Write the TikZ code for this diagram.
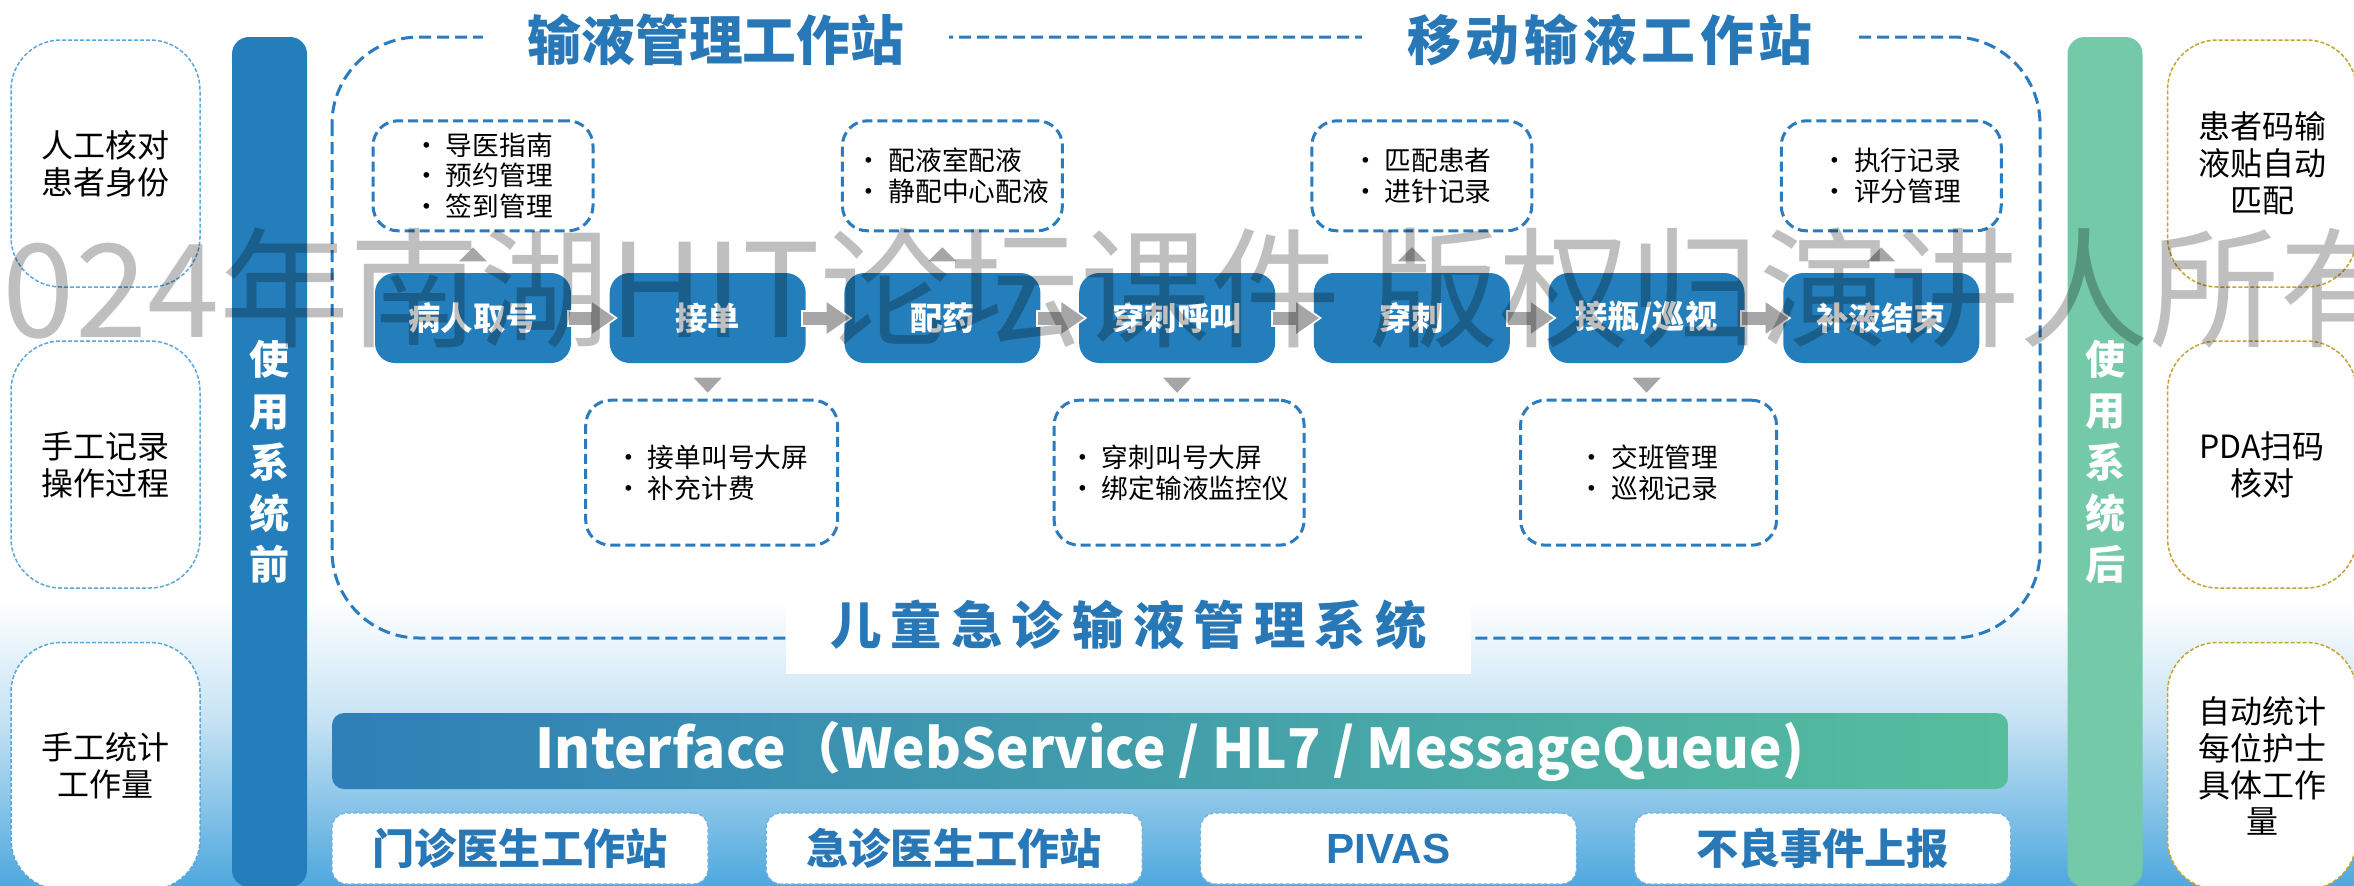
\documentclass[tikz,border=0pt]{standalone}
\usepackage{fontspec}
\setmainfont{Noto Sans CJK SC}
\newfontfamily\pivasfont{Liberation Sans}
\usetikzlibrary{positioning,calc,arrows.meta}

\definecolor{procblue}{HTML}{237EBB}
\definecolor{titleblue}{HTML}{2878B8}
\definecolor{dashblue}{HTML}{2B7CBF}
\definecolor{afgreen}{HTML}{74C9A9}
\definecolor{markgray}{HTML}{A6A6A6}
\definecolor{leftdot}{HTML}{5AA8DC}
\definecolor{golddot}{HTML}{C8A232}
\definecolor{bgmid}{HTML}{C6E2F3}
\definecolor{bgbot}{HTML}{4EA8DE}
\definecolor{ifaceleft}{HTML}{2F7FB8}
\definecolor{ifaceright}{HTML}{56BE9D}
\definecolor{sysdash}{HTML}{6FB2E0}

\tikzset{
  sidebox/.style={draw, line width=0.15mm, dash pattern=on 0.4mm off 0.2mm, rounded corners=5mm, fill=white,
    minimum width=18.9mm, minimum height=24.7mm, inner sep=0pt, align=center,
    font=\fontsize{9.1pt}{10.5pt}\selectfont},
  barnode/.style={rounded corners=1.7mm, minimum width=7.5mm, minimum height=85mm, inner sep=0pt,
    text=white, align=center, font=\fontsize{11.4pt}{14.6pt}\selectfont\bfseries},
  regionline/.style={dashblue, line width=0.3mm, dash pattern=on 1.2mm off 0.6mm, rounded corners=8.7mm},
  titlenode/.style={fill=white, inner xsep=4.5mm, inner ysep=1mm, text=titleblue,
    font=\fontsize{15.3pt}{15.3pt}\selectfont\bfseries},
  procbox/.style={fill=procblue, rounded corners=2mm, minimum width=19.6mm, minimum height=9mm,
    inner sep=0pt, text=white, font=\fontsize{9.2pt}{9.2pt}\selectfont\bfseries},
  notebox/.style={draw=dashblue, line width=0.3mm, dash pattern=on 1mm off 0.5mm, rounded corners=2.5mm,
    fill=white, minimum width=22mm, minimum height=11mm, inner sep=0pt, align=left,
    font=\fontsize{7.6pt}{8.8pt}\selectfont},
  sysbox/.style={draw=sysdash, line width=0.12mm, dash pattern=on 0.4mm off 0.2mm, rounded corners=1.5mm,
    fill=white, minimum width=37.6mm, minimum height=7.1mm, inner sep=0pt, text=titleblue,
    font=\fontsize{12pt}{12pt}\selectfont\bfseries},
  flowarrow/.style={markgray, line width=1.3mm, -{Triangle[length=2.3mm,width=3mm]}},
  flowedge/.style={white, line width=1.7mm, -{Triangle[length=2.7mm,width=3.6mm]}}
}

\begin{document}
\begin{tikzpicture}[x=0.1mm,y=-0.1mm]
\useasboundingbox (0,0) rectangle (2354,885);
% background
\fill[white] (0,0) rectangle (2354,885);
\shade[top color=white,bottom color=bgmid] (0,600) rectangle (2354,721);
\shade[top color=bgmid,bottom color=bgbot] (0,720) rectangle (2354,886);

% before / after
\node[sidebox, draw=leftdot] (b1) at (105.5,163.5) {人工核对\\患者身份};
\node[sidebox, draw=leftdot] (b2) at (105.5,464.5) {手工记录\\操作过程};
\node[sidebox, draw=leftdot] (b3) at (105.5,766) {手工统计\\工作量};
\node[sidebox, draw=golddot] (a1) at (2262,163.5) {患者码输\\液贴自动\\匹配};
\node[sidebox, draw=golddot] (a2) at (2262,464.5) {PDA扫码\\核对};
\node[sidebox, draw=golddot] (a3) at (2262,766) {自动统计\\每位护士\\具体工作\\量};

\node[barnode, fill=procblue] (useL) at (269.5,462) {使\\用\\系\\统\\前};
\node[barnode, fill=afgreen] (useR) at (2105,462) {使\\用\\系\\统\\后};

% system frame
\draw[regionline] (332,37) rectangle (2040,638);
\node[titlenode] (t1) at (716,40) {输液管理工作站};
\node[titlenode, font=\fontsize{15.3pt}{15.3pt}\selectfont\bfseries\addfontfeature{LetterSpace=9}] (t2) at (1610,40) {移动输液工作站};
\node[fill=white, minimum width=68.5mm, minimum height=9.8mm, text=titleblue,
  font=\fontsize{14.6pt}{14.6pt}\selectfont\bfseries\addfontfeature{LetterSpace=18}] (sys) at (1128.5,625) {儿童急诊输液管理系统};

% flow
\node[procbox] (p1) at (473,318) {病人取号};
\node[procbox, right=3.73mm of p1] (p2) {接单};
\node[procbox, right=3.73mm of p2] (p3) {配药};
\node[procbox, right=3.73mm of p3] (p4) {穿刺呼叫};
\node[procbox, right=3.73mm of p4] (p5) {穿刺};
\node[procbox, right=3.73mm of p5] (p6) {接瓶/巡视};
\node[procbox, right=3.73mm of p6] (p7) {补液结束};

\node[notebox, above=4mm of p1, xshift=1mm] (n1) {•\ 导医指南\\•\ 预约管理\\•\ 签到管理};
\node[notebox, above=4mm of p3, xshift=1mm] (n3) {•\ 配液室配液\\•\ 静配中心配液};
\node[notebox, above=4mm of p5, xshift=1mm] (n5) {•\ 匹配患者\\•\ 进针记录};
\node[notebox, above=4mm of p7, xshift=1mm] (n7) {•\ 执行记录\\•\ 评分管理};
\node[notebox, below=3.5mm of p2, xshift=0.4mm, minimum width=25.2mm, minimum height=14.5mm] (n2) {•\ 接单叫号大屏\\•\ 补充计费};
\node[notebox, below=3.5mm of p4, xshift=0.2mm, minimum width=25mm, minimum height=14.5mm] (n4) {•\ 穿刺叫号大屏\\•\ 绑定输液监控仪};
\node[notebox, below=3.5mm of p6, xshift=0.2mm, minimum width=25.6mm, minimum height=14.5mm] (n6) {•\ 交班管理\\•\ 巡视记录};

\foreach \p in {p1,p3,p5,p7}
  \fill[markgray] ($(\p.north)+(-14,-11)$) -- ($(\p.north)+(14,-11)$) -- ($(\p.north)+(0,-25)$) -- cycle;
\foreach \p in {p2,p4,p6}
  \fill[markgray] ($(\p.south)+(-14,14)$) -- ($(\p.south)+(14,14)$) -- ($(\p.south)+(0,29)$) -- cycle;

\foreach \a/\b in {p1/p2,p2/p3,p3/p4,p4/p5,p5/p6,p6/p7}{
  \draw[flowedge] ([xshift=-0.5mm]\a.east) -- ([xshift=0.9mm]\b.west);
  \draw[flowarrow] ([xshift=-0.3mm]\a.east) -- ([xshift=0.6mm]\b.west);
}

% interface
\node[shade, left color=ifaceleft, right color=ifaceright, rounded corners=1.2mm,
  minimum width=167.6mm, minimum height=7.6mm, inner sep=0pt, text=white,
  font=\fontsize{15.6pt}{15.6pt}\selectfont\bfseries] (iface) at (1170,751)
  {Interface（WebService / HL7 / MessageQueue)\hspace{3mm}};

\node[sysbox] (s1) at (520,848.5) {门诊医生工作站};
\node[sysbox, right=5.7mm of s1] (s2) {急诊医生工作站};
\node[sysbox, right=5.7mm of s2, font=\fontsize{12pt}{12pt}\selectfont\pivasfont\bfseries] (s3) {PIVAS};
\node[sysbox, right=5.7mm of s3] (s4) {不良事件上报};

% watermark
\node[anchor=base west, inner sep=0pt, text=black, text opacity=0.25,
  font=\fontsize{37pt}{37pt}\selectfont] (wm) at (-70,337) {2024年南湖HIT论坛课件 版权归演讲人所有};
\end{tikzpicture}
\end{document}
